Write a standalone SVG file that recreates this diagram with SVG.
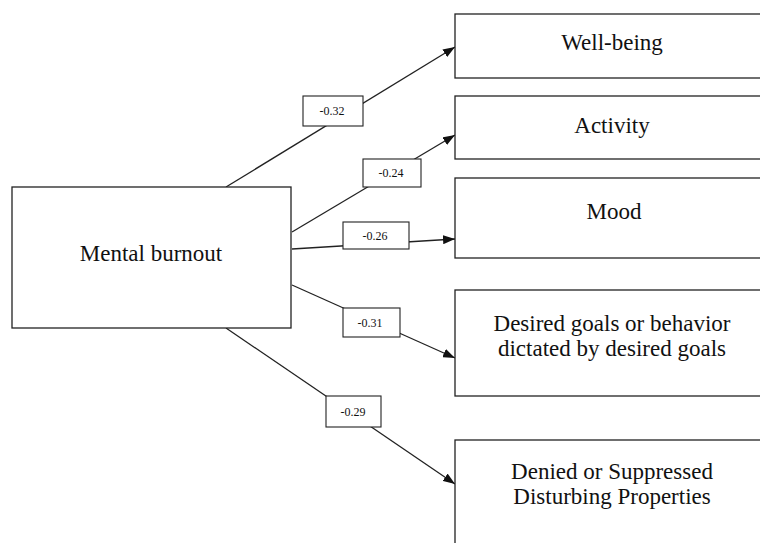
<svg xmlns="http://www.w3.org/2000/svg" width="760" height="543" viewBox="0 0 760 543">
<style>
.box{fill:#fff;stroke:#222;stroke-width:1.3}
.lbl{fill:#fff;stroke:#222;stroke-width:1.1}
.t{font-family:"Liberation Serif","Times New Roman",serif;font-size:23px;fill:#111;text-anchor:middle}
.s{font-family:"Liberation Serif","Times New Roman",serif;font-size:12px;fill:#111;text-anchor:middle}
.c{stroke:#222;stroke-width:1.3;fill:none;marker-end:url(#ah)}
</style>
<defs>
<marker id="ah" markerWidth="12" markerHeight="9" refX="12" refY="4.5" orient="auto" markerUnits="userSpaceOnUse">
<path d="M0,0 L12,4.5 L0,9 Z" fill="#111"/>
</marker>
</defs>
<rect width="760" height="543" fill="#fff"/>
<g id="connectors">
<line class="c" x1="226" y1="187" x2="455" y2="47"/>
<line class="c" x1="292" y1="232" x2="455" y2="135"/>
<line class="c" x1="292" y1="249" x2="455" y2="239"/>
<line class="c" x1="292" y1="285" x2="455" y2="358"/>
<line class="c" x1="226" y1="328" x2="455" y2="484"/>
</g>
<g id="n-burnout"><rect class="box" x="12" y="187" width="279" height="141"/><text class="t" x="151" y="261">Mental burnout</text></g>
<g id="n-wellbeing"><rect class="box" x="455" y="14" width="320" height="64"/><text class="t" x="612" y="50">Well-being</text></g>
<g id="n-activity"><rect class="box" x="455" y="96" width="320" height="63"/><text class="t" x="612" y="133">Activity</text></g>
<g id="n-mood"><rect class="box" x="455" y="178" width="320" height="80"/><text class="t" x="614" y="219">Mood</text></g>
<g id="n-goals"><rect class="box" x="455" y="290" width="320" height="106"/><text class="t" x="612" y="331">Desired goals or behavior</text><text class="t" x="612" y="356">dictated by desired goals</text></g>
<g id="n-denied"><rect class="box" x="455" y="440" width="320" height="120"/><text class="t" x="612" y="479">Denied or Suppressed</text><text class="t" x="612" y="504">Disturbing Properties</text></g>
<g id="l1"><rect class="lbl" x="303" y="96" width="60" height="30"/><text class="s" x="332" y="115">-0.32</text></g>
<g id="l2"><rect class="lbl" x="363" y="159" width="58" height="28"/><text class="s" x="391" y="177">-0.24</text></g>
<g id="l3"><rect class="lbl" x="343" y="222" width="66" height="27"/><text class="s" x="375" y="240">-0.26</text></g>
<g id="l4"><rect class="lbl" x="343" y="308" width="57" height="29"/><text class="s" x="370" y="327">-0.31</text></g>
<g id="l5"><rect class="lbl" x="326" y="396" width="55" height="31"/><text class="s" x="353" y="416">-0.29</text></g>
</svg>
